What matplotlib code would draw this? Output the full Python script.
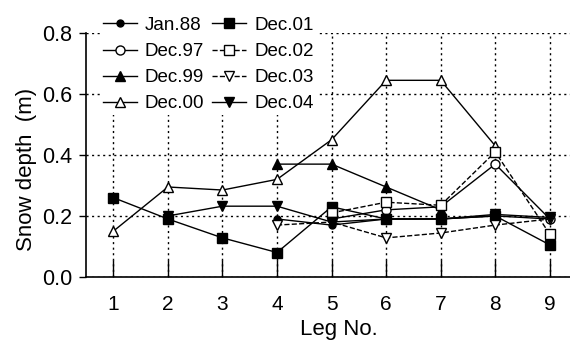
import numpy as np
import matplotlib.pyplot as plt

plt.rcParams['font.family'] = ['Liberation Sans', 'DejaVu Sans']

legs = [1, 2, 3, 4, 5, 6, 7, 8, 9]
nan = np.nan

# snow depth (m) per leg
jan88 = [nan, nan, nan, 0.19, 0.17, 0.19, 0.19, 0.20, 0.19]
dec97 = [nan, nan, nan, nan, 0.19, 0.22, 0.23, 0.37, 0.19]
dec99 = [nan, nan, nan, 0.37, 0.37, 0.295, 0.22, nan, nan]
dec00 = [0.15, 0.295, 0.285, 0.32, 0.45, 0.645, 0.645, 0.43, nan]
dec01 = [0.26, 0.19, 0.128, 0.08, 0.23, 0.19, 0.19, 0.20, 0.105]
dec02 = [nan, nan, nan, nan, 0.21, 0.245, 0.235, 0.41, 0.14]
dec03 = [nan, nan, nan, 0.17, 0.18, 0.128, 0.144, 0.17, 0.19]
dec04 = [nan, 0.20, 0.232, 0.232, 0.18, 0.19, 0.19, 0.205, 0.195]

ylabels = ['0.0', '0.2', '0.4', '0.6', '0.8']

fig = plt.figure(figsize=(5.7, 3.41), dpi=100)
ax = fig.add_axes([0.151, 0.188, 0.849, 0.715])

k = dict(color='black', lw=1.0, ms=6.5)
# first legend column
ax.plot(legs, jan88, '-', marker='o', mfc='black', ms=5, color='black', lw=1.0, label='Jan.88')
ax.plot(legs, dec97, '-', marker='o', mfc='white', **k, label='Dec.97')
ax.plot(legs, dec99, '-', marker='^', mfc='black', **k, label='Dec.99')
ax.plot(legs, dec00, '-', marker='^', mfc='white', **k, label='Dec.00')
# second legend column
ax.plot(legs, dec01, '-', marker='s', mfc='black', **k, label='Dec.01')
ax.plot(legs, dec02, '--', marker='s', mfc='white', **k, label='Dec.02')
ax.plot(legs, dec03, '--', marker='v', mfc='white', **k, label='Dec.03')
ax.plot(legs, dec04, '-', marker='v', mfc='black', **k, label='Dec.04')

ax.set_xlim(0.5, 9.37)
ax.set_ylim(0, 0.8)
ax.set_xticks(legs)
ax.set_yticks([0, 0.2, 0.4, 0.6, 0.8])
ax.set_yticklabels(ylabels)
ax.grid(True, color='black', ls=(0, (1.5, 2.5)), lw=1.0)
ax.spines['top'].set_visible(False)
ax.spines['right'].set_visible(False)
ax.spines['left'].set_linewidth(1.2)
ax.spines['bottom'].set_linewidth(1.2)
ax.tick_params(axis='x', direction='in', length=12, labelsize=15, pad=13, width=1)
ax.tick_params(axis='y', direction='out', length=5, labelsize=15.5, pad=5, width=1)
ax.set_xlabel('Leg No.', fontsize=16)
ax.set_ylabel('Snow depth  (m)', fontsize=16)
ax.xaxis.set_label_coords(0.523, -0.172)
ax.yaxis.set_label_coords(-0.101, 0.44)

leg = ax.legend(ncol=2, loc='upper left', bbox_to_anchor=(100 / 570, 1 - 14 / 341),
                bbox_transform=fig.transFigure, frameon=True, fontsize=13.5,
                handlelength=1.8, handletextpad=0.45, columnspacing=0.4,
                labelspacing=0.48, borderpad=0.15, borderaxespad=0, fancybox=False)
leg.get_frame().set_facecolor('white')
leg.get_frame().set_edgecolor('none')
leg.get_frame().set_alpha(1)

fig.savefig('out.png', dpi=100)
